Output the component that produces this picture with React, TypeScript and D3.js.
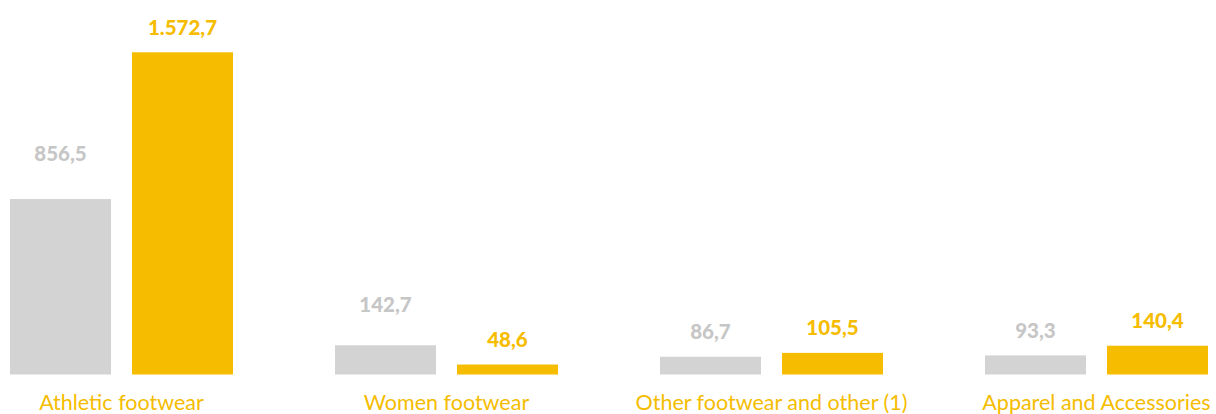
import React from "react";
import * as d3 from "d3";

const categories = ["Athletic footwear", "Women footwear", "Other footwear and other (1)", "Apparel and Accessories"];
const seriesKeys = ["prev", "curr"];
const prevValues = [856.5, 142.7, 86.7, 93.3];
const currValues = [1572.7, 48.6, 105.5, 140.4];
const prevLabels = ["856,5", "142,7", "86,7", "93,3"];
const currLabels = ["1.572,7", "48,6", "105,5", "140,4"];

const W = 1216;
const H = 414;
const GRAY = "#d3d3d3";
const GRAY_TEXT = "#c6c6c6";
const YELLOW = "#f5bc00";
const FONT = "Lato, 'Open Sans', sans-serif";

export default function App() {
  const baseY = 374.5;
  const topY = 52.3;
  const x0 = d3.scaleBand<string>().domain(categories).range([10, 1208]).paddingInner(0.3138).paddingOuter(0);
  const x1 = d3.scaleBand<string>().domain(seriesKeys).range([0, x0.bandwidth()]).paddingInner(0.172).paddingOuter(0);
  const y = d3.scaleLinear().domain([0, 1572.7]).range([baseY, topY]);
  // extra lift for some labels as placed in the original
  const prevLift = [21, 16, 0, 0];

  return (
    <svg width={W} height={H} style={{ position: "absolute", left: 0, top: 0 }} fontFamily={FONT}>
      {categories.map((c, i) => {
        const gx = x0(c)!;
        const items = [
          { k: "prev", v: prevValues[i], l: prevLabels[i], fill: GRAY, tc: GRAY_TEXT, lift: prevLift[i] },
          { k: "curr", v: currValues[i], l: currLabels[i], fill: YELLOW, tc: YELLOW, lift: 0 },
        ];
        return (
          <g key={c}>
            {items.map((it) => {
              const bx = gx + x1(it.k)!;
              const by = y(it.v);
              return (
                <g key={it.k}>
                  <rect x={bx} y={by} width={x1.bandwidth()} height={baseY - by} fill={it.fill} />
                  <text
                    x={bx + x1.bandwidth() / 2}
                    y={by - 17.5 - it.lift}
                    textAnchor="middle"
                    fontSize={20.5}
                    fontWeight={900}
                    fill={it.tc}
                  >
                    {it.l}
                  </text>
                </g>
              );
            })}
            <text x={gx + x0.bandwidth() / 2} y={410} textAnchor="middle" fontSize={21.5} fill={YELLOW}>
              {c}
            </text>
          </g>
        );
      })}
    </svg>
  );
}
